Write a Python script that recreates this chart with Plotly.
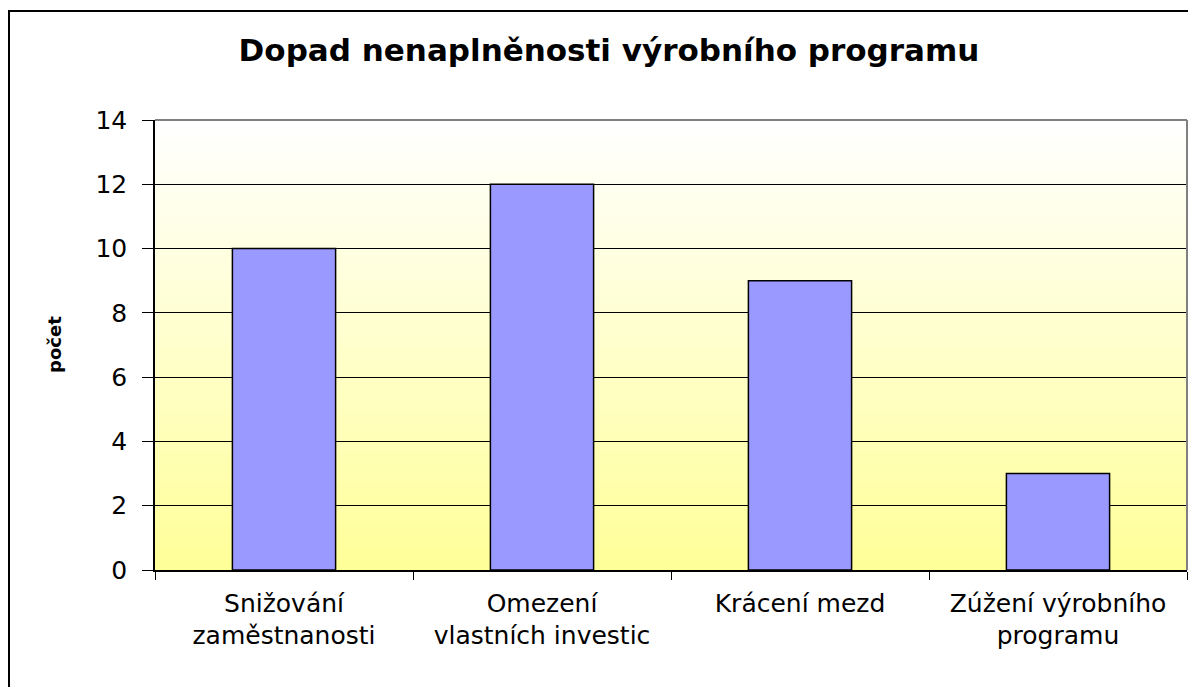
import plotly.graph_objects as go

categories = ["Snižování<br>zaměstnanosti", "Omezení<br>vlastních investic", "Krácení mezd", "Zúžení výrobního<br>programu"]
values = [10, 12, 9, 3]
title_text = "Dopad nenaplněnosti výrobního programu"
y_title = "počet"
y_ticks = [0, 2, 4, 6, 8, 10, 12, 14]

OFF = 8  # page body margin
W, H = 1196, 687
ml, mt = 155 - OFF, 120 - OFF
pw, ph = 1032, 450
mr = W - ml - pw
mb = H - mt - ph


def px_x(p):
    return (p - OFF - ml) / pw


def px_y(p):
    return (mt + ph - (p - OFF)) / ph


fig = go.Figure()
fig.add_trace(go.Bar(
    x=categories, y=values,
    marker=dict(color="#9999FF", line=dict(color="black", width=1.5)),
    width=0.4,
))

shapes = []
n = 90
for i in range(n):
    t = i / (n - 1)  # 0 bottom, 1 top
    r, g, b = 255, 255, int(round(153 + (255 - 153) * t))
    shapes.append(dict(type="rect", xref="paper", yref="paper",
                       x0=0, x1=1, y0=i / n, y1=(i + 1) / n + 0.002,
                       fillcolor=f"rgb({r},{g},{b})", line=dict(width=0), layer="below"))
shapes.append(dict(type="line", xref="paper", yref="paper", x0=0, x1=1, y0=1, y1=1,
                   line=dict(color="#808080", width=2), layer="above"))
shapes.append(dict(type="line", xref="paper", yref="paper", x0=1, x1=1, y0=0, y1=1,
                   line=dict(color="#808080", width=2), layer="above"))
shapes.append(dict(type="rect", xref="paper", yref="paper",
                   x0=px_x(9), x1=px_x(1215),
                   y0=px_y(700), y1=px_y(11),
                   line=dict(color="black", width=2), fillcolor="rgba(0,0,0,0)", layer="above"))

fig.update_layout(
    width=W, height=H,
    margin=dict(l=ml, r=mr, t=mt, b=mb),
    paper_bgcolor="white", plot_bgcolor="white",
    showlegend=False,
    shapes=shapes,
    font=dict(family="DejaVu Sans", color="black"),
    title=dict(text=title_text, x=(609 - OFF) / W, xanchor="center", xref="container",
               y=1 - (50 - OFF) / H, yanchor="middle", yref="container",
               font=dict(family="DejaVu Sans", size=31, color="black", weight="bold")),
    xaxis=dict(showline=True, linecolor="black", linewidth=1.5,
               ticks="outside", tickson="boundaries", ticklen=8, tickcolor="black",
               ticklabelstandoff=10,
               tickfont=dict(size=25, color="black"), showgrid=False),
    yaxis=dict(range=[0, 14], tickvals=y_ticks, showline=True, linecolor="black", linewidth=1.5,
               ticks="outside", ticklen=11, tickcolor="black", ticklabelstandoff=10,
               tickfont=dict(size=25, color="black"), showgrid=True,
               gridcolor="black", gridwidth=1, zeroline=False),
    annotations=[dict(text=y_title, xref="paper", yref="paper",
                      x=px_x(54), y=px_y(345), textangle=-90,
                      showarrow=False, xanchor="center", yanchor="middle",
                      font=dict(family="DejaVu Sans", size=18, color="black", weight="bold"))],
)

fig.write_html("out.html")
